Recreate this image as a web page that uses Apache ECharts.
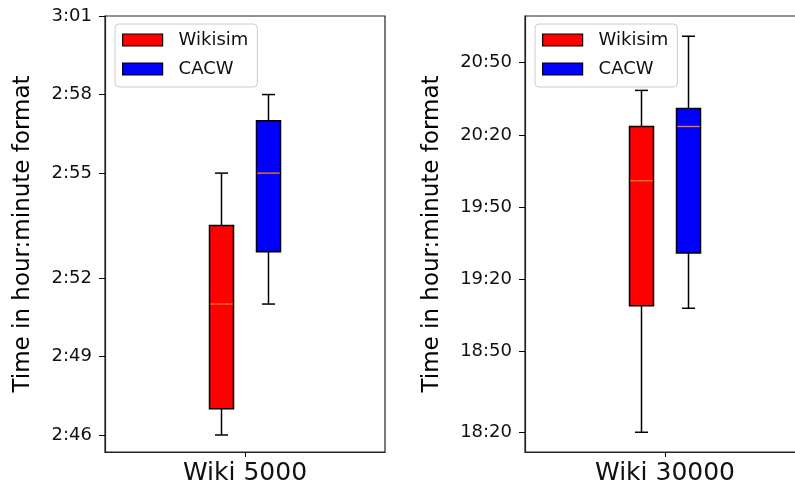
<!DOCTYPE html>
<html><head><meta charset="utf-8">
<script src="https://cdn.jsdelivr.net/npm/echarts@6/dist/echarts.min.js"></script>
<style>html,body{margin:0;padding:0;background:#fff}#c{width:795px;height:487px}</style>
</head><body><div id="c"></div>
<script>
// ---- data (times in minutes) ----
const categoriesLeft = ['Wiki 5000'];
const categoriesRight = ['Wiki 30000'];
const seriesNames = ['Wikisim', 'CACW'];
// [min, q1, median, q3, max]
const wiki5000Wikisim = [165, 166, 170, 173, 175];
const wiki5000CACW = [170, 172, 175, 177, 178];
const wiki30000Wikisim = [1096.5, 1149, 1201, 1223.5, 1238.5];
const wiki30000CACW = [1148, 1171, 1223.5, 1231, 1261];
const leftTickValues = [165, 168, 171, 175, 178, 181];
const leftTickLabels = ['2:46', '2:49', '2:52', '2:55', '2:58', '3:01'];
const rightTickValues = [1096.5, 1130, 1160, 1190, 1220, 1250];
const rightTickLabels = ['18:20', '18:50', '19:20', '19:50', '20:20', '20:50'];
const leftRange = [164.35, 181];
const rightRange = [1088.3, 1269.4];
const yName = 'Time in hour:minute format';

const FONT = 'DejaVu Sans';
const chart = echarts.init(document.getElementById('c'), null, {renderer: 'canvas'});

function makeRender(offset) {
  return function (params, api) {
    const x = api.value(0);
    const p = [1, 2, 3, 4, 5].map(k => api.coord([x, api.value(k)]));
    const cx = p[0][0] + offset;
    const halfW = 12, capW = 6.5;
    const yMin = p[0][1], yQ1 = p[1][1], yMed = p[2][1], yQ3 = p[3][1], yMax = p[4][1];
    const ls = {stroke: '#000', lineWidth: 1.5, fill: null};
    return {type: 'group', children: [
      {type: 'line', shape: {x1: cx, y1: yQ3, x2: cx, y2: yMax}, style: ls},
      {type: 'line', shape: {x1: cx, y1: yQ1, x2: cx, y2: yMin}, style: ls},
      {type: 'line', shape: {x1: cx - capW, y1: yMax, x2: cx + capW, y2: yMax}, style: ls},
      {type: 'line', shape: {x1: cx - capW, y1: yMin, x2: cx + capW, y2: yMin}, style: ls},
      {type: 'rect', shape: {x: cx - halfW, y: yQ3, width: 2 * halfW, height: yQ1 - yQ3},
        style: {fill: api.visual('color'), stroke: '#000', lineWidth: 1.5}},
      {type: 'line', shape: {x1: cx - halfW + 0.8, y1: yMed, x2: cx + halfW - 0.8, y2: yMed},
        style: {stroke: '#ff7f0e', lineWidth: 1.3}}
    ]};
  };
}

function labelFor(values, labels) {
  return function (v) {
    for (let i = 0; i < values.length; i++) if (Math.abs(values[i] - v) < 1e-6) return labels[i];
    return '';
  };
}

function yAxisCfg(gridIndex, range, vals, labs, nameGap) {
  return {
    type: 'value', gridIndex, min: range[0], max: range[1],
    name: yName, nameLocation: 'middle', nameGap,
    nameTextStyle: {fontFamily: FONT, fontSize: 23, color: '#000'},
    axisLine: {show: true, lineStyle: {color: '#222', width: 1.2}},
    axisTick: {show: true, length: 6, customValues: vals, lineStyle: {color: '#000', width: 1}},
    axisLabel: {customValues: vals, formatter: labelFor(vals, labs), fontFamily: FONT, fontSize: 18, color: '#111', margin: 13},
    splitLine: {show: false}
  };
}

function xAxisCfg(gridIndex, cats) {
  return {
    type: 'category', gridIndex, data: cats,
    axisLine: {show: true, lineStyle: {color: '#222', width: 1.2}},
    axisTick: {show: true, alignWithLabel: true, length: 5, lineStyle: {color: '#000'}},
    axisLabel: {fontFamily: FONT, fontSize: 25, color: '#111', margin: 9},
    splitLine: {show: false}
  };
}

function legendCfg(left) {
  return {
    left, top: 24, orient: 'vertical', data: seriesNames,
    itemWidth: 40, itemHeight: 12, itemGap: 11, padding: [7, 9, 9, 7],
    borderColor: '#ccc', borderWidth: 1, borderRadius: 4, backgroundColor: 'rgba(255,255,255,0.8)',
    icon: 'rect', itemStyle: {borderColor: '#000', borderWidth: 1.2},
    textStyle: {fontFamily: FONT, fontSize: 18, color: '#111', padding: [0, 0, 0, 11]},
    selectedMode: false
  };
}

const colors = {Wikisim: '#ff0000', CACW: '#0000ff'};
const offsets = {Wikisim: -23.5, CACW: 23.5};

function boxSeries(name, gi, vals) {
  return {
    type: 'custom', name, xAxisIndex: gi, yAxisIndex: gi,
    itemStyle: {color: colors[name]},
    renderItem: makeRender(offsets[name]),
    encode: {x: 0, y: [1, 2, 3, 4, 5]},
    data: [[0].concat(vals)],
    clip: false, z: 3
  };
}

chart.setOption({
  animation: false,
  backgroundColor: '#fff',
  grid: [
    {left: 105, top: 16, width: 280, height: 436, show: true, borderColor: '#222', borderWidth: 1.2,
      backgroundColor: 'transparent', outerBoundsMode: 'none', containLabel: false},
    {left: 525, top: 16, width: 280, height: 436, show: true, borderColor: '#222', borderWidth: 1.2,
      backgroundColor: 'transparent', outerBoundsMode: 'none', containLabel: false}
  ],
  xAxis: [xAxisCfg(0, categoriesLeft), xAxisCfg(1, categoriesRight)],
  yAxis: [
    yAxisCfg(0, leftRange, leftTickValues, leftTickLabels, 70),
    yAxisCfg(1, rightRange, rightTickValues, rightTickLabels, 81)
  ],
  legend: [legendCfg(115), legendCfg(535)],
  series: [
    boxSeries('Wikisim', 0, wiki5000Wikisim),
    boxSeries('CACW', 0, wiki5000CACW),
    boxSeries('Wikisim', 1, wiki30000Wikisim),
    boxSeries('CACW', 1, wiki30000CACW)
  ]
});
</script>
</body></html>
